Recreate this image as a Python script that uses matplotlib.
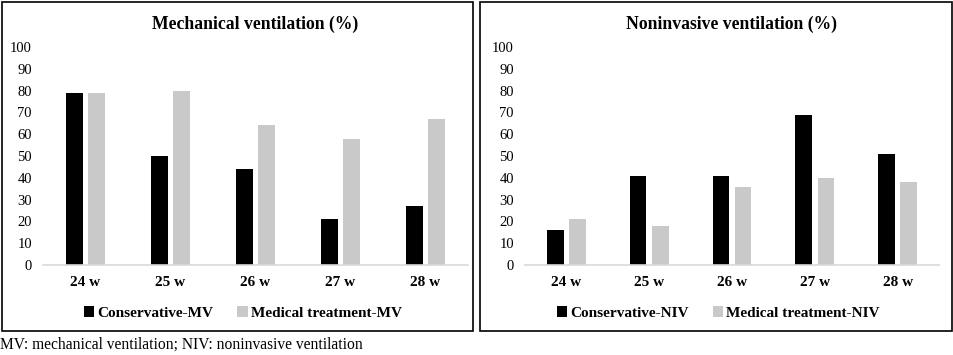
import numpy as np
import matplotlib
matplotlib.use("Agg")
from matplotlib import pyplot as plt
from matplotlib.patches import Rectangle

weeks = ["24 w", "25 w", "26 w", "27 w", "28 w"]
mv_conservative = [79, 50, 44, 21, 27]
mv_medical = [79, 80, 64, 58, 67]
niv_conservative = [16, 41, 41, 69, 51]
niv_medical = [21, 18, 36, 40, 38]

plt.rcParams['font.family'] = ['Liberation Serif', 'DejaVu Serif']

BLACK = "#000000"
GRAY = "#c9c9c9"

fig = plt.figure(figsize=(9.54, 3.55), dpi=100)
W, H = 954, 355


def fx(px):
    return px / W


def fy(py):
    return 1 - py / H


def panel(ax, cons, med, title, lab_c, lab_m, leg_x):
    x = np.arange(len(weeks))
    w = 0.2
    gap = 0.07
    ax.bar(x - (w + gap) / 2, cons, w, color=BLACK, label=lab_c)
    ax.bar(x + (w + gap) / 2, med, w, color=GRAY, label=lab_m)
    ax.set_xlim(-0.5, len(weeks) - 0.5)
    ax.set_ylim(0, 100)
    ax.set_yticks(range(0, 101, 10))
    ax.set_xticks(x)
    ax.set_xticklabels(weeks, fontweight="bold", fontsize=11)
    ax.tick_params(axis="y", length=0, labelsize=10.5, pad=8)
    ax.tick_params(axis="x", length=0, pad=8)
    for s in ["top", "right", "left"]:
        ax.spines[s].set_visible(False)
    ax.spines["bottom"].set_color("#d9d9d9")
    ax.spines["bottom"].set_linewidth(1.2)
    ax.set_title(title, fontweight="bold", fontsize=12.7, pad=13)
    ax.legend(loc="upper center", bbox_to_anchor=(leg_x, -0.125), ncol=2,
              frameon=False, prop={"weight": "bold", "size": 11},
              handlelength=0.7, handleheight=0.7, handletextpad=0.2,
              columnspacing=1.55)


ax1 = fig.add_axes([fx(43), fy(265), fx(468 - 43), (265 - 47) / H])
panel(ax1, mv_conservative, mv_medical, "Mechanical ventilation (%)",
      "Conservative-MV", "Medical treatment-MV", 0.47)

ax2 = fig.add_axes([fx(525), fy(265), fx(939 - 525), (265 - 47) / H])
panel(ax2, niv_conservative, niv_medical, "Noninvasive ventilation (%)",
      "Conservative-NIV", "Medical treatment-NIV", 0.467)

# outer boxes round each panel
for x0, x1 in [(2, 473), (480, 952)]:
    fig.patches.append(Rectangle((fx(x0), fy(331)), fx(x1 - x0), (331 - 2) / H,
                                 transform=fig.transFigure, fill=False,
                                 edgecolor="black", linewidth=1.2))

fig.text(fx(0), fy(345), "MV: mechanical ventilation; NIV: noninvasive ventilation",
         fontsize=11.2, va="center", ha="left")

fig.savefig("out.png", dpi=100)
